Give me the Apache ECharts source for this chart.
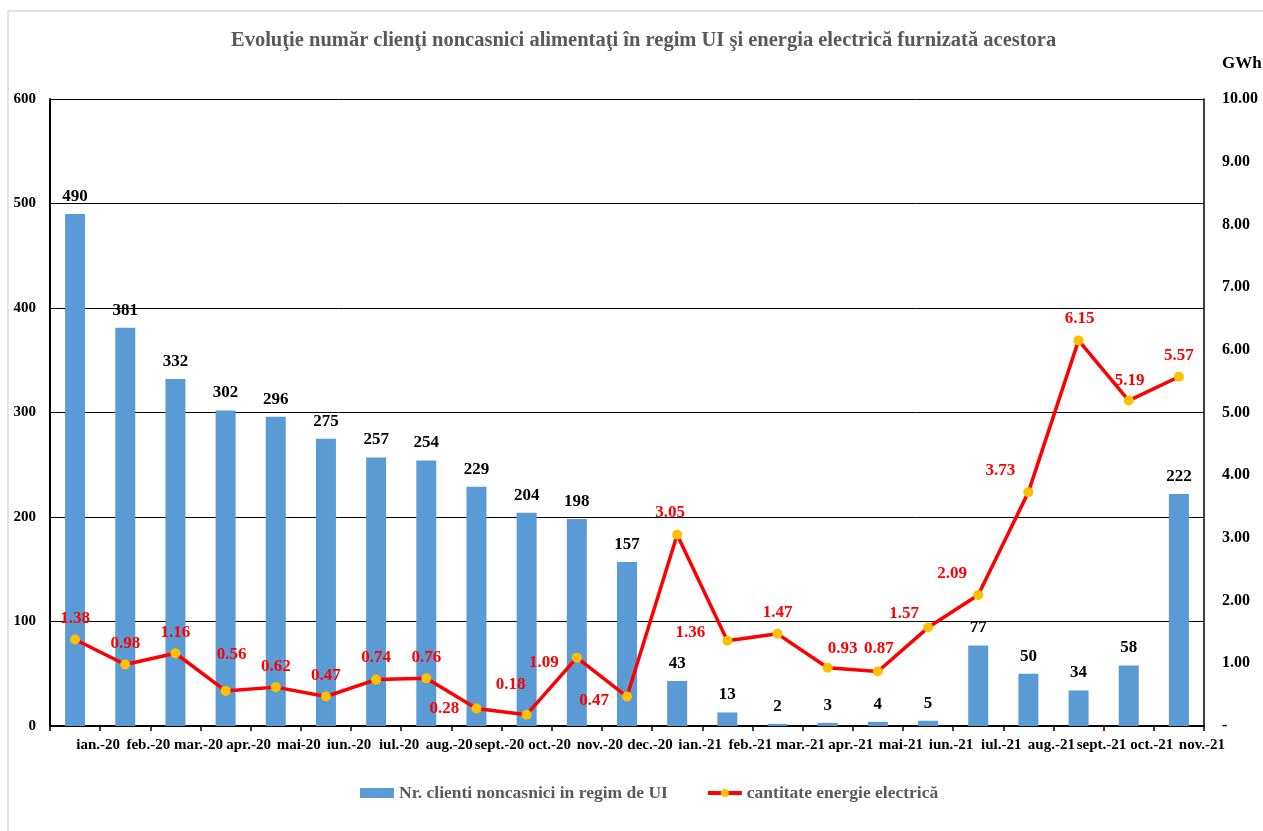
<!DOCTYPE html>
<html>
<head>
<meta charset="utf-8">
<script src="https://cdn.jsdelivr.net/npm/echarts@6/dist/echarts.min.js"></script>
<style>
  html, body { margin: 0; padding: 0; background: #fff; }
  #chart { width: 1263px; height: 831px; }
</style>
</head>
<body>
<div id="chart"></div>
<script>
// Months shown on the category axis
const categories = ['ian.-20','feb.-20','mar.-20','apr.-20','mai-20','iun.-20','iul.-20','aug.-20','sept.-20','oct.-20','nov.-20','dec.-20','ian.-21','feb.-21','mar.-21','apr.-21','mai-21','iun.-21','iul.-21','aug.-21','sept.-21','oct.-21','nov.-21'];
// Number of non-household customers supplied under UI (left axis)
const clienti = [490,381,332,302,296,275,257,254,229,204,198,157,43,13,2,3,4,5,77,50,34,58,222];
// Electricity supplied, GWh (right axis)
const energie = [1.38,0.98,1.16,0.56,0.62,0.47,0.74,0.76,0.28,0.18,1.09,0.47,3.05,1.36,1.47,0.93,0.87,1.57,2.09,3.73,6.15,5.19,5.57];
// Axis tick values
const leftTicks = [0,100,200,300,400,500,600];
const rightTicks = [0,1,2,3,4,5,6,7,8,9,10];

// Label placement for the energy line (offset of label centre from point, px)
const energyLabelOffsets = [
  [0,-21],[0,-21],[0,-21],[6,-36],[0,-21],[0,-21],[0,-22],[0,-21],
  [-32,0],[-16,-30],[-33,5],[-33,4],[-7,-22],[-37,-8],[0,-21],[15,-19],
  [1,-23],[-24,-14],[-26,-21],[-28,-22],[1,-22],[1,-20],[0,-21]
];

const SERIF = '"Liberation Serif", "Times New Roman", serif';

const chart = echarts.init(document.getElementById('chart'), null, { renderer: 'canvas' });

chart.setOption({
  backgroundColor: '#ffffff',
  animation: false,
  textStyle: { fontFamily: SERIF },
  graphic: [
    {
      type: 'rect',
      shape: { x: 8, y: 11, width: 1300, height: 900 },
      style: { fill: 'none', stroke: '#E4E4E4', lineWidth: 2 },
      silent: true, z: -10
    },
    {
      type: 'text',
      left: 1222, top: 55,
      style: { text: 'GWh', font: 'bold 17px ' + SERIF, fill: '#000' }
    }
  ],
  title: {
    text: 'Evoluţie număr clienţi noncasnici alimentaţi în regim UI şi energia electrică furnizată acestora',
    left: 226,
    top: 25,
    textStyle: { fontFamily: SERIF, fontWeight: 'bold', fontSize: 20.5, color: '#595959' }
  },
  legend: {
    bottom: 24,
    left: 355,
    itemGap: 38,
    itemWidth: 34,
    itemHeight: 10,
    lineStyle: { width: 4 },
    textStyle: { fontFamily: SERIF, fontWeight: 'bold', fontSize: 17.5, color: '#595959' },
    data: [
      { name: 'Nr. clienti noncasnici in regim de UI', icon: 'rect' },
      { name: 'cantitate energie electrică' }
    ]
  },
  grid: { left: 50, right: 59, top: 99, bottom: 105, containLabel: false },
  xAxis: {
    type: 'category',
    data: categories,
    boundaryGap: true,
    axisLine: { lineStyle: { color: '#000', width: 2 } },
    axisTick: { show: true, length: 5, inside: false, lineStyle: { color: '#000', width: 1.5 } },
    axisLabel: {
      interval: 0,
      margin: 12,
      fontFamily: SERIF, fontWeight: 'bold', fontSize: 15, color: '#000',
      padding: [0, 0, 0, 46]
    }
  },
  yAxis: [
    {
      type: 'value',
      min: leftTicks[0], max: leftTicks[leftTicks.length - 1], interval: 100,
      axisLine: { show: true, lineStyle: { color: '#000', width: 2 } },
      axisTick: { show: false },
      splitLine: { show: true, lineStyle: { color: '#000', width: 1 } },
      axisLabel: { margin: 14, fontFamily: SERIF, fontWeight: 'bold', fontSize: 15, color: '#000' }
    },
    {
      type: 'value',
      min: rightTicks[0], max: rightTicks[rightTicks.length - 1], interval: 1,
      position: 'right',
      axisLine: { show: true, lineStyle: { color: '#000', width: 1.5 } },
      axisTick: { show: false },
      splitLine: { show: false },
      axisLabel: {
        margin: 18, fontFamily: SERIF, fontWeight: 'bold', fontSize: 16, color: '#000',
        formatter: v => v === 0 ? '-' : v.toFixed(2)
      }
    }
  ],
  series: [
    {
      name: 'Nr. clienti noncasnici in regim de UI',
      type: 'bar',
      yAxisIndex: 0,
      data: clienti,
      barWidth: 20,
      itemStyle: { color: '#5B9BD5' },
      label: {
        show: true, position: 'top', distance: 9,
        fontFamily: SERIF, fontWeight: 'bold', fontSize: 17, color: '#000'
      },
      z: 2
    },
    {
      name: 'cantitate energie electrică',
      type: 'line',
      yAxisIndex: 1,
      data: energie.map((v, i) => ({
        value: v,
        label: { offset: energyLabelOffsets[i] }
      })),
      symbol: 'circle',
      symbolSize: 10,
      lineStyle: { color: '#FF0000', width: 3.5 },
      itemStyle: { color: '#FFC000', borderColor: '#FFC000', borderWidth: 0 },
      label: {
        show: true, position: 'inside',
        formatter: p => p.value.toFixed(2),
        fontFamily: SERIF, fontWeight: 'bold', fontSize: 17, color: '#FF0000'
      },
      z: 3
    }
  ]
});
</script>
</body>
</html>
